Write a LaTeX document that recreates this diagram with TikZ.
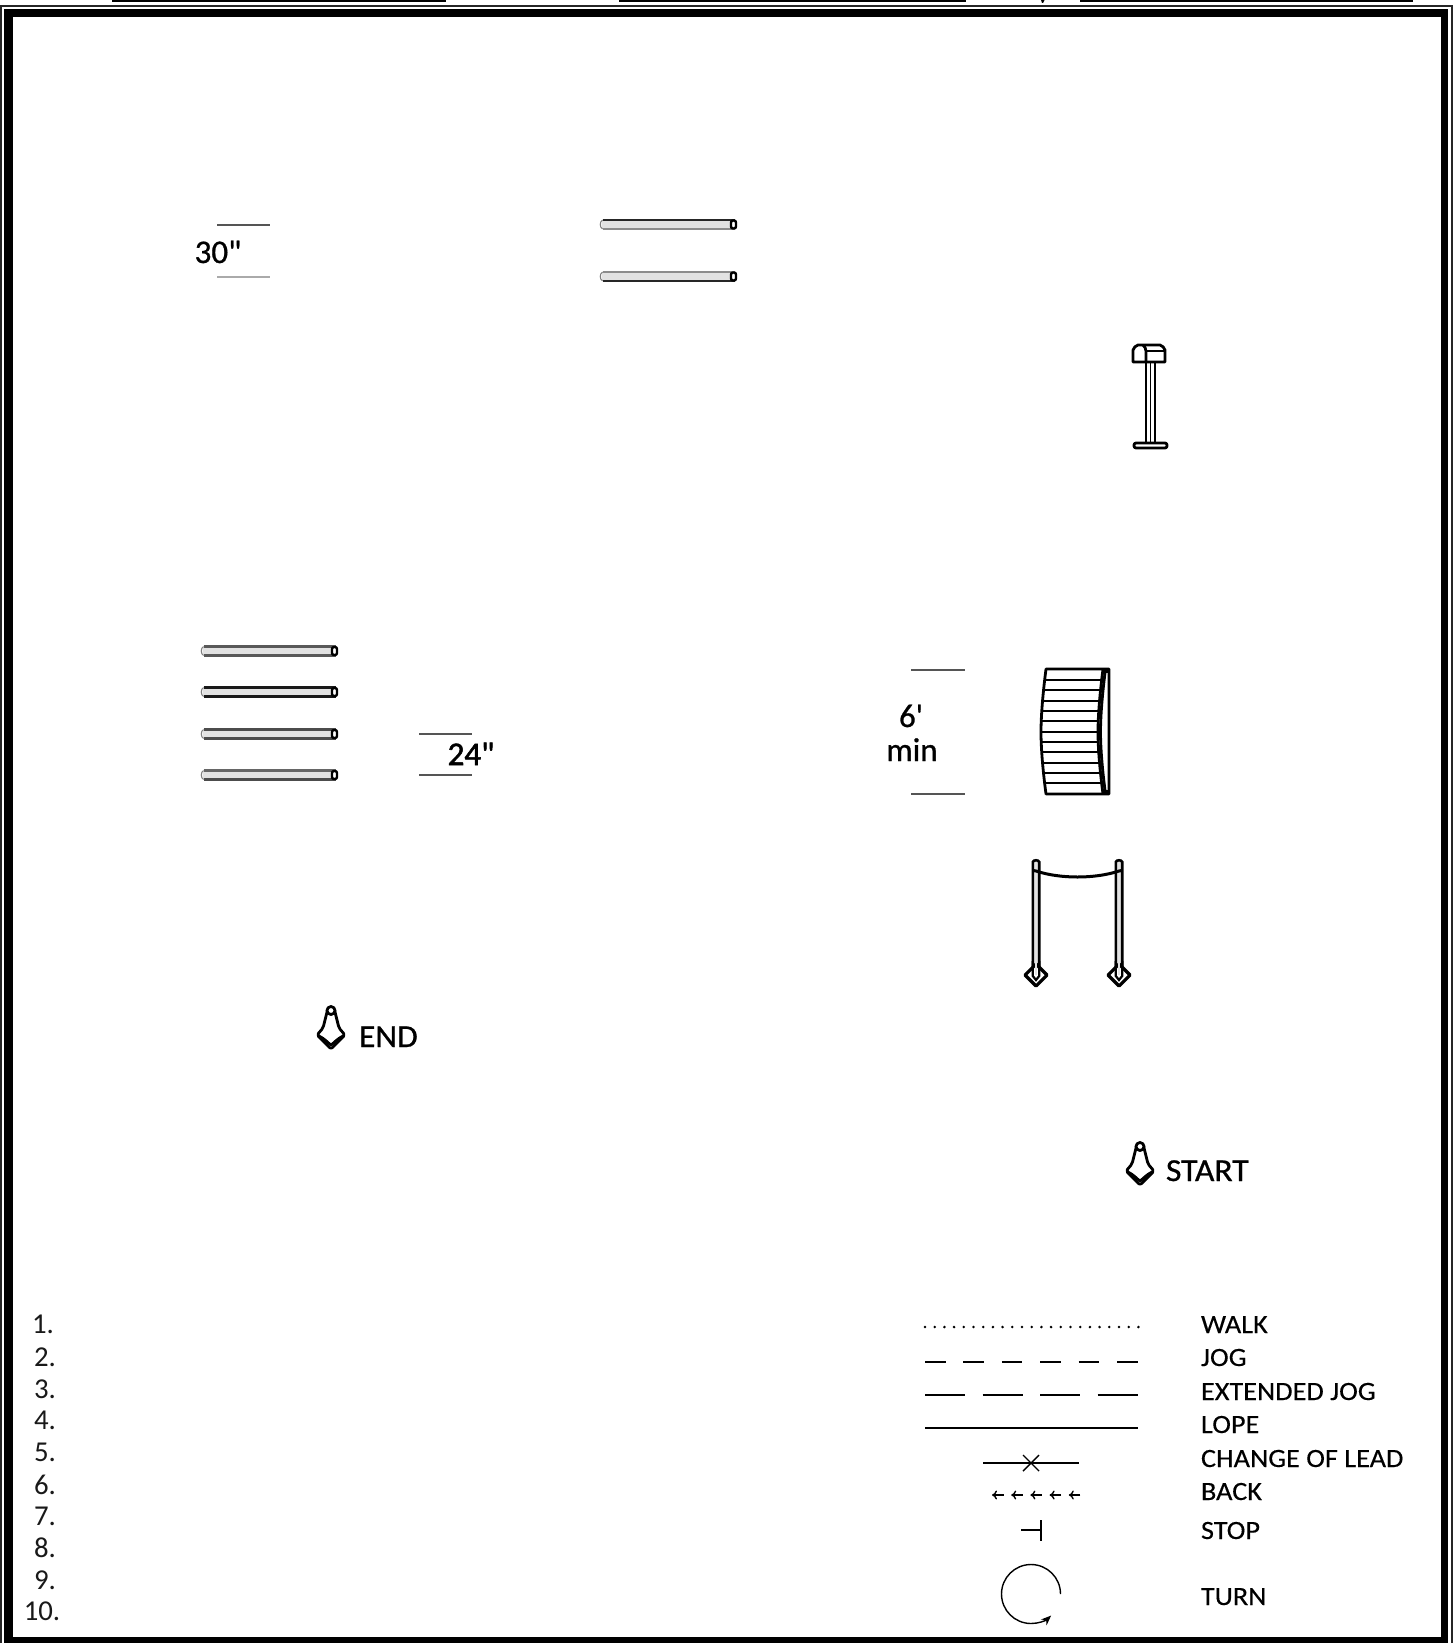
\documentclass[tikz,border=0pt]{standalone}
\usepackage{fontspec}
\setmainfont{Carlito}
\newfontfamily\legfont[FakeStretch=1.07,FakeBold=0.25]{Carlito}
\newfontfamily\markfont[FakeStretch=1.05,FakeBold=0.8]{Carlito}
\newfontfamily\dimfont[FakeBold=0.8]{Carlito}
\newfontfamily\dimboldfont[FakeBold=1.6]{Carlito}
\usetikzlibrary{arrows.meta}
\definecolor{tubefill}{HTML}{E2E2E2}
\definecolor{dimdark}{HTML}{555555}
\definecolor{dimlight}{HTML}{AAAAAA}
\newcommand{\tubebar}[4]{% x1, y, top colour, bottom colour
  \begin{scope}[shift={(#1,#2)}]
    \fill[tubefill,rounded corners=1.5pt] (0,-5) rectangle (135,5);
    \draw[#3,line width=1.1pt] (1,-4.5) -- (133,-4.5);
    \draw[#4,line width=1.1pt] (1,4.5) -- (133,4.5);
    \draw[gray,line width=.5pt] (1,-4.5) to[bend right=60] (1,4.5);
    \draw[black,line width=1.2pt,fill=white,rounded corners=1pt] (129.5,-4) rectangle (134.5,4);
  \end{scope}}
\newcommand{\conemark}[2]{% top x, top y
  \begin{scope}[shift={(#1,#2)}]
    \draw[markline,fill=white,rounded corners=1pt] (-3.5,3) -- (-8,21) -- (-14,28) -- (0,42) -- (14,28) -- (8,21) -- (3.5,3);
    \draw[markline,fill=white] (0,3.5) circle (2pt);
    \draw[markline] (-12,29) .. controls (-6,32) and (-3,36) .. (0,38) .. controls (3,36) and (6,32) .. (12,29);
  \end{scope}}
\newcommand{\polemark}[2]{% x, bottom y
  \draw[black,line width=1.3pt,fill=tubefill] (#1-3.2,#2) -- (#1-3.2,862) to[bend left=70] (#1+3.2,862) -- (#1+3.2,#2);
  \draw[black,line width=1.6pt,line join=round,fill=white] (#1,#2-11) -- (#1+11,#2) -- (#1,#2+11) -- (#1-11,#2) -- cycle;
  \draw[black,line width=1.1pt] (#1-3.2,#2-14) -- (#1-3.2,#2+1) -- (#1,#2+5) -- (#1+3.2,#2+1) -- (#1+3.2,#2-14);
  \draw[tubefill,line width=1.2pt] (#1,#2-13) -- (#1,#2);}
\tikzset{
  txt/.style={inner sep=0pt,outer sep=0pt,anchor=base west,font=\legfont\fontsize{13.2}{15}\selectfont},
  listnum/.style={inner sep=0pt,outer sep=0pt,anchor=base,font=\fontsize{14.4}{16}\selectfont,text=black!90},
  dimtxt/.style={inner sep=0pt,outer sep=0pt,anchor=base,font=\dimfont\fontsize{16.5}{19}\selectfont},
  marktxt/.style={inner sep=0pt,outer sep=0pt,anchor=base west,font=\markfont\fontsize{16}{18}\selectfont},
  dimline/.style={line width=1pt,dimdark},
  markline/.style={line width=1.4pt,black,line join=round},
  legline/.style={line width=.7pt,black},
}
\begin{document}
\begin{tikzpicture}[x=0.5pt,y=-0.5pt]
\useasboundingbox (0,0) rectangle (1453,1643);
% frame
\fill[black!85] (0,5) rectangle (1453,1643);
\fill[white] (1.5,7) rectangle (1450.5,1643);
\fill[black] (4,9.5) rectangle (1448,1643);
\fill[white] (13,17.5) rectangle (1441,1637);
% name lines cut off by the page top
\fill[black] (112,0) rectangle (446,2.2);
\fill[black] (619,0) rectangle (966,2.2);
\fill[black] (1080,0) rectangle (1413,2.2);
\fill[black] (1041,0) -- (1044.5,0) -- (1043,3) -- (1042,3) -- cycle;
% 30 in poles
\tubebar{601.5}{224.5}{black!85}{black!45}
\tubebar{601.5}{276.5}{black!45}{black!85}
\draw[dimline] (217,224.5) -- (270,224.5);
\draw[dimline,dimlight] (217,276.5) -- (270,276.5);
\node[dimtxt] (d30) at (218,263) {30\char"0022};
% mailbox
\draw[markline,fill=white] (1133,362) -- (1133,350) to[bend left=25] (1138,345) -- (1160,345) to[bend left=25] (1165,350) -- (1165,362) -- cycle;
\draw[markline] (1143,345) to[bend left=20] (1146,351) -- (1146,362);
\draw[markline] (1146,351) -- (1165,351);
\draw[markline] (1146,362) -- (1146,443);
\draw[line width=.9pt] (1150.5,362) -- (1150.5,443);
\draw[markline] (1155,362) -- (1155,443);
\draw[markline,fill=white,rounded corners=1pt] (1134,443) rectangle (1167,448);
% four poles
\tubebar{202.5}{651}{black!65}{black!65}
\tubebar{202.5}{692}{black!90}{black!90}
\tubebar{202.5}{734}{black!70}{black!70}
\tubebar{202.5}{775}{black!60}{black!70}
\draw[dimline] (419,734) -- (472,734);
\draw[dimline] (419,775) -- (472,775);
\node[dimtxt,font=\dimboldfont\fontsize{16.5}{19}\selectfont] (d24) at (471,765) {24\char"0022};
% bridge
\draw[dimline] (911,670) -- (965,670);
\draw[dimline] (911,794) -- (965,794);
\node[dimtxt] (d6) at (911,727) {6\char"0027};
\node[dimtxt] (dmin) at (912,761) {min};
\draw[markline,fill=white] (1046,669) .. controls (1042,700) and (1041,720) .. (1041,732) .. controls (1041,744) and (1042,764) .. (1046,794) -- (1109,794) -- (1109,669) -- cycle;
\draw[markline] (1103,669) .. controls (1099,700) and (1098,720) .. (1098,732) .. controls (1098,744) and (1099,764) .. (1103,794);
\draw[markline] (1105.5,669) .. controls (1101.5,700) and (1100.5,720) .. (1100.5,732) .. controls (1100.5,744) and (1101.5,764) .. (1105.5,794);
\fill[black] (1103,669) rectangle (1109,673);
\fill[black] (1103,790) rectangle (1109,795);
\foreach \yy/\xl/\xr in {680/1045/1102,690.3/1044/1101,700.7/1043/1100,711/1042/1099,721.3/1042/1098,731.7/1041/1098,742/1042/1098,752.3/1042/1099,762.7/1043/1100,773/1044/1101,783.3/1045/1102}
  \draw[line width=1pt] (\xl,\yy) -- (\xr,\yy);
% ground-pole arch
\polemark{1036}{975}
\polemark{1119}{975}
\draw[black,line width=1.5pt] (1033,870.5) -- (1036,871) .. controls (1060,879) and (1095,879) .. (1119,871) -- (1122,870.5);
% cones
\conemark{331}{1007}
\node[marktxt] (endlabel) at (359,1047) {END};
\conemark{1140}{1143}
\node[marktxt] (startlabel) at (1166,1181) {START};
% numbered list
\foreach \n/\xx/\yy in {1/43/1333,2/45/1366,3/45/1398,4/45/1429,5/45/1461,6/45/1494,7/45/1525,8/45/1557,9/45/1589,10/42/1620}
  \node[listnum] (num\n) at (\xx,\yy) {\n.};
% legend symbols
\foreach \i in {0,...,22}
  \fill[black] ({925+\i*9.7},1327) circle (.7pt);
\foreach \i in {0,...,5}
  \draw[legline] ({925+\i*38.4},1362) -- ({945.5+\i*38.4},1362);
\foreach \i in {0,...,3}
  \draw[legline] ({925+\i*57.5},1395) -- ({965+\i*57.5},1395);
\draw[legline] (925,1428) -- (1138,1428);
\draw[legline] (983,1463) -- (1079,1463);
\draw[legline] (1023,1455) -- (1039,1471);
\draw[legline] (1023,1471) -- (1039,1455);
\foreach \i in {0,...,4}
  \draw[legline,-{To[length=2.5pt,width=4.5pt]}] ({1003.5+\i*19.2},1495) -- ({992+\i*19.2},1495);
\draw[legline] (1021,1530) -- (1041,1530);
\draw[legline] (1041,1520) -- (1041,1541);
\draw[legline,-{Stealth[length=5pt,width=4pt]}] (1060.5,1594) arc[start angle=0,delta angle=313,radius=14.75pt];
% legend labels
\node[txt] (walk) at (1201,1333) {WALK};
\node[txt] (jog) at (1201,1366) {JOG};
\node[txt] (xjog) at (1201,1400) {EXTENDED JOG};
\node[txt] (lope) at (1201,1433) {LOPE};
\node[txt] (lead) at (1201,1467) {CHANGE OF LEAD};
\node[txt] (back) at (1201,1500) {BACK};
\node[txt] (stopl) at (1201,1539) {STOP};
\node[txt] (turn) at (1201,1605) {TURN};
\end{tikzpicture}
\end{document}
